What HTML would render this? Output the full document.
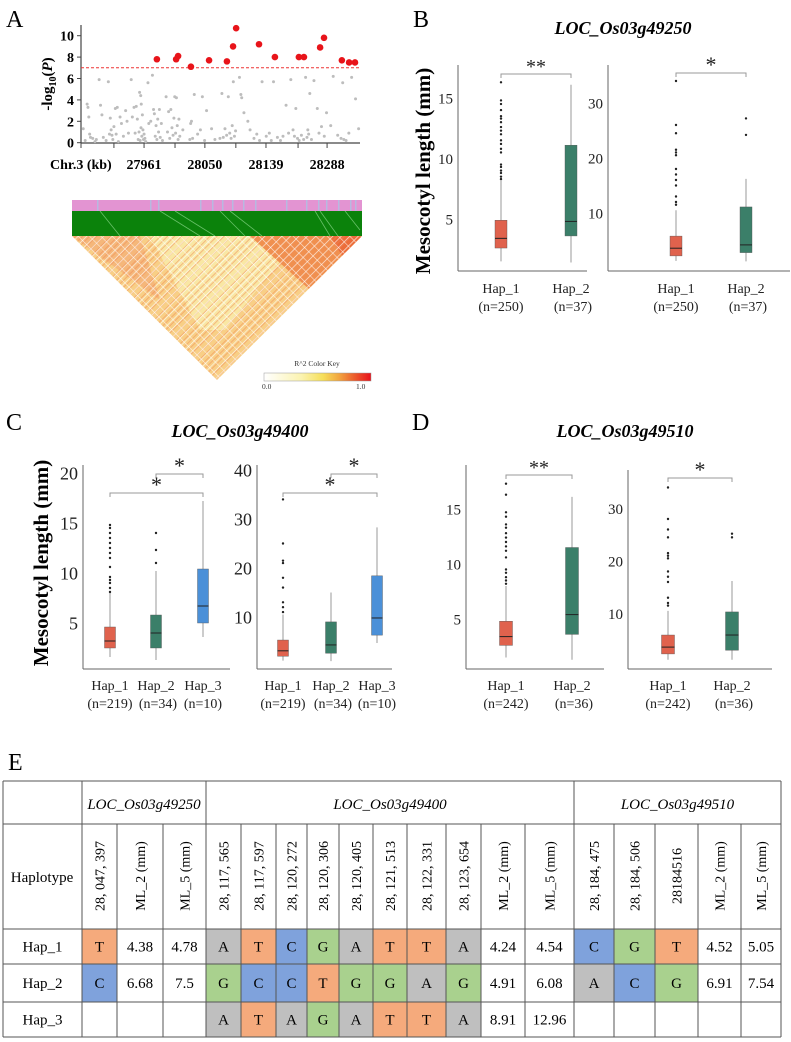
<!DOCTYPE html>
<html><head><meta charset="utf-8"><style>
html,body{margin:0;padding:0;background:#fff}
svg{display:block}
text{font-family:"Liberation Serif",serif}
</style></head><body>
<svg id="fig" width="791" height="1042" viewBox="0 0 791 1042" xmlns="http://www.w3.org/2000/svg">
<defs>
<pattern id="diagA" width="6" height="6" patternUnits="userSpaceOnUse" patternTransform="rotate(45)"><line x1="0" y1="0" x2="0" y2="6" stroke="#fff" stroke-width="1.3" opacity="0.85"/></pattern>
<pattern id="diagB" width="8" height="8" patternUnits="userSpaceOnUse" patternTransform="rotate(-45)"><line x1="0" y1="0" x2="0" y2="8" stroke="#fff" stroke-width="1.2" opacity="0.75"/></pattern>
<pattern id="diagC" width="5" height="5" patternUnits="userSpaceOnUse" patternTransform="rotate(45)"><line x1="0" y1="0" x2="0" y2="5" stroke="#ef8a55" stroke-width="2" opacity="0.5"/></pattern>
<clipPath id="triClip"><polygon points="72,236 362,236 217,380"/></clipPath>
<linearGradient id="keyGrad" x1="0" x2="1" y1="0" y2="0">
<stop offset="0" stop-color="#ffffff"/><stop offset="0.35" stop-color="#fbf3b0"/><stop offset="0.55" stop-color="#f6df5a"/><stop offset="0.7" stop-color="#f2a640"/><stop offset="0.85" stop-color="#ec5a2c"/><stop offset="1" stop-color="#e8101a"/></linearGradient>
</defs>
</svg>
<script>
// ---------- Manhattan data ----------
const manTickPos = [22.6, 44.4, 66.3, 88.2];
const manTickLabels = ["27961", "28050", "28139", "28288"];
const manMinorTicks = [0, 11.8, 33.7, 55.5, 77.8];
const manYTicks = [0, 2, 4, 6, 8, 10];
const manThreshold = 7.0;
const sigX = [27.2, 34.1, 34.8, 39.4, 45.9, 52.3, 54.5, 55.6, 63.8, 69.5, 78.1, 79.9, 85.7, 87.1, 93.5, 96.1, 98.2];
const sigY = [7.8, 7.8, 8.1, 7.1, 7.7, 7.6, 9.0, 10.7, 9.2, 8.0, 8.0, 8.0, 8.9, 9.8, 7.7, 7.5, 7.5];
const nsX = [0.8,1.5,2.2,2.5,2.8,3.1,3.4,4.2,5.0,5.5,6.5,7.0,7.5,8.0,9.0,9.8,10.2,10.5,10.8,11.1,11.4,11.8,12.3,12.6,13.0,13.4,14.0,14.5,15.2,16.0,16.5,17.0,18.0,18.4,19.0,19.4,19.8,20.2,20.5,20.8,21.0,21.2,21.4,21.5,21.6,21.8,22.0,22.2,22.4,22.6,22.9,23.2,24.0,24.3,25.0,25.6,26.0,26.3,26.6,26.9,27.2,27.5,27.8,28.1,28.4,28.8,29.2,30.5,31.0,31.4,31.8,32.2,32.6,33.0,33.3,33.6,33.9,34.2,34.5,34.8,35.1,35.4,36.5,39.0,39.3,39.6,40.0,40.6,41.8,42.8,43.5,44.3,45.0,46.8,48.0,49.8,50.5,51.0,51.6,52.2,52.8,53.3,53.8,54.2,54.6,55.0,55.4,56.8,57.3,57.6,58.4,59.8,60.6,62.0,63.0,64.0,64.9,66.4,67.5,68.2,69.0,70.4,71.5,72.4,73.5,74.4,75.2,76.0,76.5,77.0,77.6,78.2,79.0,79.8,80.5,81.0,81.3,81.6,82.0,82.6,83.5,84.7,85.3,86.2,87.2,88.0,89.5,90.4,92.0,93.2,93.8,94.2,95.0,96.0,97.0,98.4,99.5];
const nsY = [1.3,0.2,3.6,3.3,2.4,0.8,0.5,0.4,0.1,0.3,5.9,3.5,2.6,0.5,0.2,5.7,0.8,2.3,1.2,0.7,0.3,1.5,3.2,0.8,3.3,0.1,2.4,1.8,0.6,3.0,2.0,0.9,5.9,2.4,3.3,0.9,3.4,2.2,0.3,1.0,4.7,0.2,4.4,1.4,3.6,0.6,2.6,1.2,0.3,0.8,0.4,0.1,5.6,1.8,2.0,6.3,3.1,2.7,0.6,1.6,0.3,2.2,1.0,3.1,0.5,1.8,0.2,4.3,1.0,2.9,0.4,3.1,1.4,0.7,2.3,4.3,0.9,4.2,1.6,0.3,2.2,0.6,1.2,0.3,1.8,2.0,0.4,4.5,0.8,1.2,4.3,0.2,3.0,1.3,0.3,0.4,4.6,0.5,1.3,0.7,4.3,0.9,0.4,1.6,5.7,0.6,1.1,6.1,4.5,4.2,2.8,2.0,1.2,0.4,0.8,0.2,5.7,0.6,0.9,0.2,5.7,0.5,0.2,0.6,3.5,0.9,5.9,1.2,0.6,3.2,0.4,0.2,0.7,0.3,6.1,0.5,1.2,0.8,4.6,0.3,5.8,3.2,0.9,1.5,0.6,2.8,1.6,6.2,0.7,0.4,5.6,0.3,0.2,0.9,6.1,4.1,1.3,0.8,5.7,0.4,0.2,0.5];

// ---------- Boxplot data ----------
const B1_q1=[2.6,3.6], B1_med=[3.4,4.8], B1_q3=[4.9,11.1], B1_lo=[1.5,1.4], B1_hi=[8.2,16.1];
const B1_out=[[8.3,8.5,8.8,9.0,9.3,9.5,10.5,10.8,11.2,11.5,12.0,12.3,12.6,13.0,13.3,13.5,14.0,14.5,14.8,16.3],[]];
const B2_q1=[2.2,2.8], B2_med=[3.6,4.2], B2_q3=[5.8,11.1], B2_lo=[1.3,1.2], B2_hi=[10.5,16.2];
const B2_out=[[11.5,12.0,13.0,15.0,16.0,17.0,18.0,20.5,21.0,21.5,24.5,26.0,34.0],[24.2,27.2]];
const C1_q1=[2.5,2.5,5.0], C1_med=[3.2,4.0,6.7], C1_q3=[4.6,5.8,10.4], C1_lo=[1.6,1.3,3.6], C1_hi=[8.0,10.2,17.2];
const C1_out=[[8.1,8.5,9.0,9.3,9.6,10.6,11.5,12.0,12.5,13.0,13.5,14.0,14.5,14.8],[11.0,12.3,14.0],[]];
const C2_q1=[2.0,2.6,6.3], C2_med=[3.1,4.3,9.8], C2_q3=[5.3,9.0,18.4], C2_lo=[1.1,1.0,4.7], C2_hi=[10.5,15.0,28.3];
const C2_out=[[11.0,12.0,13.0,16.0,18.0,21.0,21.5,25.0,34.0],[],[]];
const D1_q1=[2.6,3.6], D1_med=[3.4,5.4], D1_q3=[4.8,11.5], D1_lo=[1.5,1.3], D1_hi=[8.0,16.1];
const D1_out=[[8.2,8.5,8.8,9.2,9.5,10.6,11.2,11.6,12.0,12.4,12.8,13.3,13.6,14.3,14.7,16.3,17.3],[]];
const D2_q1=[2.3,3.0], D2_med=[3.6,5.9], D2_q3=[5.9,10.3], D2_lo=[1.2,1.2], D2_hi=[10.5,16.2];
const D2_out=[[11.5,12.0,13.0,16.0,17.0,18.0,20.5,21.0,21.5,24.5,26.0,28.0,34.0],[24.5,25.2]];

const NS="http://www.w3.org/2000/svg";
const svg=document.getElementById('fig');
function el(tag,attrs,parent,txt){const e=document.createElementNS(NS,tag);for(const k in attrs)e.setAttribute(k,attrs[k]);if(txt!==undefined)e.textContent=txt;(parent||svg).appendChild(e);return e;}
function grp(name){const g=el('g',{},svg);


return g;}

const panelLabels=[["A",6,27],["B",413,27],["C",6,430],["D",412,430],["E",8,770]];
panelLabels.forEach(p=>{const t=el('text',{x:p[1],y:p[2],'font-size':24},svg,p[0]);

});

(function(){
const g=grp('manhattan-plot');
const X=v=>81+v*2.79, Y=v=>142.7-v*10.7;
el('line',{x1:81,y1:25,x2:81,y2:143,stroke:'#444','stroke-width':1.2},g);
el('line',{x1:81,y1:143,x2:360,y2:143,stroke:'#444','stroke-width':1.2},g);
manYTicks.forEach(t=>{el('line',{x1:77,x2:81,y1:Y(t),y2:Y(t),stroke:'#444'},g);
const tx=el('text',{x:74,y:Y(t)+5,'text-anchor':'end','font-size':14,'font-weight':'bold'},g,String(t));

});
manMinorTicks.forEach(t=>el('line',{x1:X(t),x2:X(t),y1:143,y2:148,stroke:'#444'},g));
manTickPos.forEach((t,i)=>{el('line',{x1:X(t),x2:X(t),y1:143,y2:148,stroke:'#444'},g);
const tx=el('text',{x:X(t),y:169,'text-anchor':'middle','font-size':14,'font-weight':'bold'},g,manTickLabels[i]);

});
const ct=el('text',{x:50,y:169,'font-size':14,'font-weight':'bold'},g,"Chr.3 (kb)");


const yt=el('text',{transform:'translate(52,84) rotate(-90)','text-anchor':'middle','font-size':15,'font-weight':'bold'},g);


el('tspan',{},yt,'-log');el('tspan',{'font-size':10,dy:4},yt,'10');el('tspan',{dy:-4},yt,'(');el('tspan',{'font-style':'italic'},yt,'P');el('tspan',{},yt,')');
const th=el('line',{x1:81,x2:360,y1:Y(manThreshold),y2:Y(manThreshold),stroke:'#e33','stroke-width':1,'stroke-dasharray':'3,2'},g);


nsX.forEach((x,i)=>{const c=el('circle',{cx:X(x),cy:Y(nsY[i]),r:1.5,fill:'#bdbdbd'},g);

});
sigX.forEach((x,i)=>{const c=el('circle',{cx:X(x),cy:Y(sigY[i]),r:3.3,fill:'#e8141a'},g);

});
})();

(function(){
const g=grp('ld-heatmap');
el('rect',{x:72,y:200,width:290,height:11,fill:'#e394d2'},g);
[97,150,158,200,212,222,232,243,255,286,306,318,326,338,350,355].forEach(x=>el('rect',{x:x,y:200,width:1.5,height:11,fill:'#b7b9e0'},g));
el('rect',{x:72,y:211,width:290,height:25,fill:'#0b820b'},g);
[[100,211,120,236],[160,211,200,236],[175,211,215,236],[220,211,245,236],[230,211,262,236],[315,211,330,236],[320,211,338,236],[345,211,360,230]].forEach(l=>el('line',{x1:l[0],y1:l[1],x2:l[2],y2:l[3],stroke:'#7fd07f','stroke-width':0.8,opacity:0.8},g));
const tg=el('g',{'clip-path':'url(#triClip)'},g);
el('rect',{x:72,y:236,width:290,height:145,fill:'#f8cf86'},tg);
el('polygon',{points:'150,236 300,236 225,330 200,330',fill:'#f9e7a4'},tg);
el('polygon',{points:'250,236 362,236 310,290',fill:'#f0904f'},tg);
el('polygon',{points:'330,236 362,236 346,262',fill:'#ec6d3a'},tg);
el('polygon',{points:'72,236 140,236 160,300',fill:'#f5b77a'},tg);
el('rect',{x:72,y:236,width:290,height:145,fill:'url(#diagC)'},tg);
el('rect',{x:72,y:236,width:290,height:145,fill:'url(#diagA)'},tg);
el('rect',{x:72,y:236,width:290,height:145,fill:'url(#diagB)'},tg);
const kt=el('text',{x:317,y:366,'text-anchor':'middle','font-size':7.5,'font-family':'Liberation Sans','fill':'#333'},g,'R^2 Color Key');


const kb=el('rect',{x:264,y:373,width:107,height:8,fill:'url(#keyGrad)',stroke:'#999','stroke-width':0.5},g);


el('text',{x:262,y:389,'font-size':7.5,'font-family':'Liberation Sans',fill:'#333'},g,'0.0');
el('text',{x:356,y:389,'font-size':7.5,'font-family':'Liberation Sans',fill:'#333'},g,'1.0');
})();

const COLORS=['#e0624d','#3b7f69','#4b90d8'];
function boxplot(name,cfg,q1,med,q3,lo,hi,out){
const g=grp(name);
const Y=v=>cfg.y0-v*cfg.ppu;
el('line',{x1:cfg.ax,y1:cfg.top,x2:cfg.ax,y2:cfg.base,stroke:'#666','stroke-width':1},g);
el('line',{x1:cfg.ax,y1:cfg.base,x2:cfg.xe,y2:cfg.base,stroke:'#666','stroke-width':1},g);
cfg.ticks.forEach(t=>{const tx=el('text',{x:cfg.ax-5,y:Y(t)+cfg.fs*0.35,'text-anchor':'end','font-size':cfg.fs,fill:'#222'},g,String(t));

});
q1.forEach((_,i)=>{const x=cfg.xs[i],w=cfg.bw;
el('line',{x1:x,x2:x,y1:Y(lo[i]),y2:Y(hi[i]),stroke:'#999','stroke-width':1},g);
const r=el('rect',{x:x-w/2,y:Y(q3[i]),width:w,height:Y(q1[i])-Y(q3[i]),fill:COLORS[i],stroke:'#555','stroke-width':0.4},g);


el('line',{x1:x-w/2,x2:x+w/2,y1:Y(med[i]),y2:Y(med[i]),stroke:'#222','stroke-width':1},g);
out[i].forEach(v=>{const c=el('circle',{cx:x,cy:Y(v),r:1.2,fill:'#222'},g);

});
if(cfg.labels){const l1=el('text',{x:x,y:cfg.ly,'text-anchor':'middle','font-size':14,fill:'#222'},g,'Hap_'+(i+1));


const l2=el('text',{x:x+(i==1?2:0),y:cfg.ly+18,'text-anchor':'middle','font-size':14,fill:'#222'},g,'(n='+cfg.ns[i]+')');

}
});
cfg.brackets.forEach(b=>{const x1=cfg.xs[b[0]],x2=cfg.xs[b[1]],y=b[2];
const p=el('path',{d:`M${x1},${y+4}V${y}H${x2}V${y+4}`,fill:'none',stroke:'#999','stroke-width':1},g);


const s=el('text',{x:(x1+x2)/2,y:y-1,'text-anchor':'middle','font-size':b[3].length>1?20:22,fill:'#222'},g,b[3]);

});
}
function title(txt,x,y,name){const t=el('text',{x:x,y:y,'text-anchor':'middle','font-size':18,'font-weight':'bold','font-style':'italic'},svg,txt);

}
function ytitle(x,y,name){const t=el('text',{transform:`translate(${x},${y}) rotate(-90)`,'text-anchor':'middle','font-size':21,'font-weight':'bold'},svg,'Mesocotyl  length (mm)');

}

title('LOC_Os03g49250',623,34,'panel-b-title');
ytitle(430,171,'panel-b-y-axis-title');
boxplot('panel-b-ml2',{ax:458,xe:587,top:65,base:271,y0:279.5,ppu:12.1,ticks:[5,10,15],fs:15,xs:[501,571],bw:12,labels:true,ly:293,ns:[250,37],brackets:[[0,1,74,'**']]},B1_q1,B1_med,B1_q3,B1_lo,B1_hi,B1_out);
boxplot('panel-b-ml5',{ax:608,xe:790,top:65,base:271,y0:268,ppu:5.5,ticks:[10,20,30],fs:15,xs:[676,746],bw:12,labels:true,ly:293,ns:[250,37],brackets:[[0,1,73,'*']]},B2_q1,B2_med,B2_q3,B2_lo,B2_hi,B2_out);

title('LOC_Os03g49400',240,437,'panel-c-title');
ytitle(48,563,'panel-c-y-axis-title');
boxplot('panel-c-ml2',{ax:83,xe:230,top:465,base:669,y0:673,ppu:10,ticks:[5,10,15,20],fs:18,xs:[110,156,203],bw:11,labels:true,ly:690,ns:[219,34,10],brackets:[[1,2,474,'*'],[0,2,493,'*']]},C1_q1,C1_med,C1_q3,C1_lo,C1_hi,C1_out);
boxplot('panel-c-ml5',{ax:257,xe:392,top:465,base:669,y0:666,ppu:4.9,ticks:[10,20,30,40],fs:18,xs:[283,331,377],bw:11,labels:true,ly:690,ns:[219,34,10],brackets:[[1,2,474,'*'],[0,2,493,'*']]},C2_q1,C2_med,C2_q3,C2_lo,C2_hi,C2_out);

title('LOC_Os03g49510',625,437,'panel-d-title');
boxplot('panel-d-ml2',{ax:466,xe:604,top:465,base:669,y0:674,ppu:11,ticks:[5,10,15],fs:15,xs:[506,572],bw:13,labels:true,ly:690,ns:[242,36],brackets:[[0,1,475,'**']]},D1_q1,D1_med,D1_q3,D1_lo,D1_hi,D1_out);
boxplot('panel-d-ml5',{ax:628,xe:772,top:470,base:669,y0:666,ppu:5.25,ticks:[10,20,30],fs:15,xs:[668,732],bw:13,labels:true,ly:690,ns:[242,36],brackets:[[0,1,478,'*']]},D2_q1,D2_med,D2_q3,D2_lo,D2_hi,D2_out);

(function(){
const g=grp('haplotype-table');
const cols=[3,82,117,163,206,241,276,307,339,373,407,446,481,525,574,614,655,698,741,781];
const rows=[781,824,929,964,1002,1037];
const O='#f5aa7c',B='#7fa2dc',G='#a9d18e',A='#bfbfbf';
const heads=['28, 047, 397','ML_2 (mm)','ML_5 (mm)','28, 117, 565','28, 117, 597','28, 120, 272','28, 120, 306','28, 120, 405','28, 121, 513','28, 122, 331','28, 123, 654','ML_2 (mm)','ML_5 (mm)','28, 184, 475','28, 184, 506','28184516','ML_2 (mm)','ML_5 (mm)'];
const data=[
['Hap_1',['T',O],'4.38','4.78',['A',A],['T',O],['C',B],['G',G],['A',A],['T',O],['T',O],['A',A],'4.24','4.54',['C',B],['G',G],['T',O],'4.52','5.05'],
['Hap_2',['C',B],'6.68','7.5',['G',G],['C',B],['C',B],['T',O],['G',G],['G',G],['A',A],['G',G],'4.91','6.08',['A',A],['C',B],['G',G],'6.91','7.54'],
['Hap_3','','','',['A',A],['T',O],['A',A],['G',G],['A',A],['T',O],['T',O],['A',A],'8.91','12.96','','','','','']];
data.forEach((r,ri)=>r.forEach((c,ci)=>{if(Array.isArray(c)){const rc=el('rect',{x:cols[ci],y:rows[ri+2],width:cols[ci+1]-cols[ci],height:rows[ri+3]-rows[ri+2],fill:c[1]},g);

}}));
const ln={stroke:'#555','stroke-width':1};
rows.forEach(y=>el('line',Object.assign({x1:cols[0],x2:cols[19],y1:y,y2:y},ln),g));
[0,1,4,14,19].forEach(i=>el('line',Object.assign({x1:cols[i],x2:cols[i],y1:rows[0],y2:rows[5]},ln),g));
cols.forEach((x,i)=>{if(![0,1,4,14,19].includes(i))el('line',Object.assign({x1:x,x2:x,y1:rows[1],y2:rows[5]},ln),g);});
[['LOC_Os03g49250',1,4],['LOC_Os03g49400',4,14],['LOC_Os03g49510',14,19]].forEach(h=>{
const t=el('text',{x:(cols[h[1]]+cols[h[2]])/2,y:809,'text-anchor':'middle','font-size':15,'font-style':'italic'},g,h[0]);

});
const hp=el('text',{x:42,y:882,'text-anchor':'middle','font-size':15},g,'Haplotype');


heads.forEach((h,i)=>{const cx=(cols[i+1]+cols[i+2])/2;
const t=el('text',{transform:`translate(${cx+5},876) rotate(-90)`,'text-anchor':'middle','font-size':14},g,h);

});
data.forEach((r,ri)=>r.forEach((c,ci)=>{const v=Array.isArray(c)?c[0]:c;if(!v)return;
const cy=(rows[ri+2]+rows[ri+3])/2+5;
const t=el('text',{x:(cols[ci]+cols[ci+1])/2,y:cy,'text-anchor':'middle','font-size':15},g,v);

}));
})();
</script>
</body></html>
